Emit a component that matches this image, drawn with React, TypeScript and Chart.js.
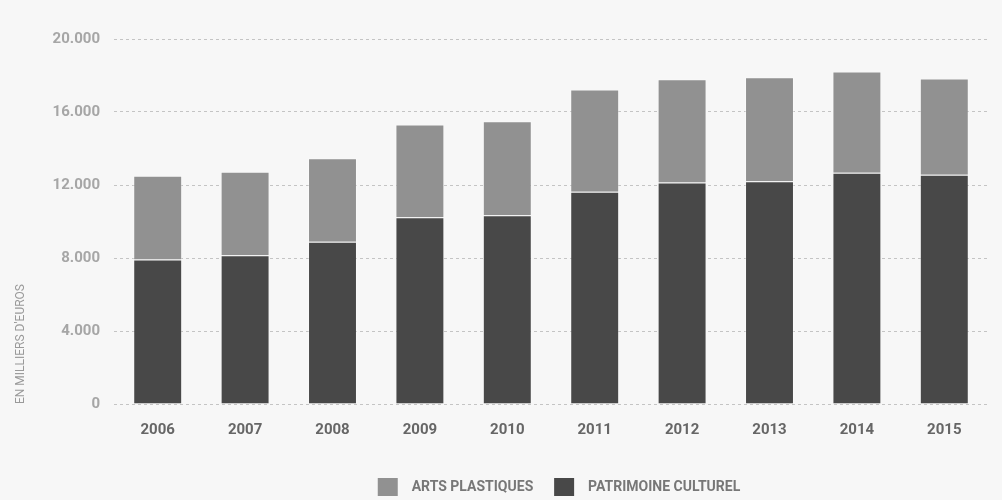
import React, { useEffect, useRef } from "react";
import { Chart, registerables } from "chart.js";

Chart.register(...registerables);

const years = ["2006", "2007", "2008", "2009", "2010", "2011", "2012", "2013", "2014", "2015"];
const patrimoineCulturel = [7920, 8150, 8890, 10230, 10340, 11630, 12140, 12210, 12670, 12560];
const artsPlastiques = [4590, 4580, 4570, 5090, 5160, 5600, 5660, 5700, 5550, 5270];
const yTicks = [0, 4000, 8000, 12000, 16000, 20000];
const axisTitle = "EN MILLIERS D'EUROS";
const legendArts = "ARTS PLASTIQUES";
const legendPatrimoine = "PATRIMOINE CULTUREL";

const fmt = (v: number) => String(v).replace(/\B(?=(\d{3})+(?!\d))/g, ".");

const legendShift = {
  id: "legendShift",
  afterLayout(chart: any) {
    if (chart.legend) {
      chart.legend.left += 65;
      chart.legend.right += 65;
    }
  },
};

export default function App() {
  const ref = useRef<HTMLCanvasElement | null>(null);

  useEffect(() => {
    if (!ref.current) return;
    const chart = new Chart(ref.current, {
      type: "bar",
      plugins: [legendShift],
      data: {
        labels: years,
        datasets: [
          {
            label: legendPatrimoine,
            data: patrimoineCulturel,
            backgroundColor: "#484848",
            borderColor: "rgba(255,255,255,0.3)",
            borderWidth: 1,
            stack: "s",
          },
          {
            label: legendArts,
            data: artsPlastiques,
            backgroundColor: "#919191",
            borderColor: "rgba(255,255,255,0.35)",
            borderWidth: 1,
            stack: "s",
          },
        ],
      },
      options: {
        animation: false,
        responsive: false,
        maintainAspectRatio: false,
        layout: { padding: { left: 0, right: 14, top: 39, bottom: -6 } },
        datasets: { bar: { categoryPercentage: 1, barPercentage: 0.56 } },
        scales: {
          x: {
            stacked: true,
            grid: { display: false, drawTicks: false },
            border: { display: false },
            ticks: {
              color: "#666666",
              padding: 17,
              font: { family: "Roboto", size: 15, weight: "bold" },
            },
            afterFit: (s: any) => {
              s.height = 74;
            },
          },
          y: {
            stacked: true,
            min: 0,
            max: 20000,
            afterBuildTicks: (s: any) => {
              s.ticks = yTicks.map((v) => ({ value: v }));
            },
            grid: { color: "#c4c4c4", drawTicks: false, lineWidth: 1 },
            border: { display: false, dash: [3, 3] },
            ticks: {
              color: "#a6a6a6",
              padding: 14,
              font: { family: "Roboto", size: 15, weight: "bold" },
              callback: (v: any) => fmt(Number(v)),
            },
            title: {
              display: true,
              text: axisTitle,
              align: "start",
              color: "#9a9a9a",
              font: { family: "Roboto", size: 12 },
              padding: { top: 14, bottom: 0 },
            },
            afterFit: (s: any) => {
              s.width = 114;
            },
          },
        },
        plugins: {
          legend: {
            position: "bottom",
            labels: {
              boxWidth: 20,
              boxHeight: 18,
              padding: 0,
              color: "#777777",
              font: { family: "Roboto", size: 14, weight: "bold" },
              generateLabels: (c: any) => {
                const items = Chart.defaults.plugins.legend.labels.generateLabels(c);
                return items
                  .map((it: any, i: number) => ({
                    ...it,
                    text: "  " + it.text + (i === 1 ? "      " : ""),
                    strokeStyle: "transparent",
                    lineWidth: 0,
                  }))
                  .reverse();
              },
            },
          },
          tooltip: { enabled: false },
        },
      },
    } as any);
    return () => chart.destroy();
  }, []);

  return (
    <div style={{ position: "fixed", left: 0, top: 0, width: 1002, height: 500, background: "#f7f7f7" }}>
      <canvas ref={ref} width={1002} height={500} style={{ display: "block", width: 1002, height: 500 }} />
    </div>
  );
}
